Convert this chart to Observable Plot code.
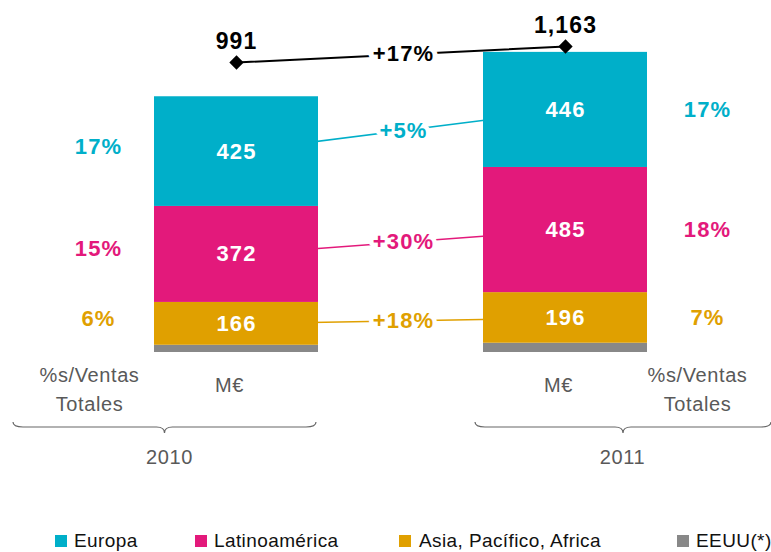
<!DOCTYPE html>
<html>
<head>
<meta charset="utf-8">
<script src="https://cdn.jsdelivr.net/npm/d3@7"></script>
<script src="https://cdn.jsdelivr.net/npm/@observablehq/plot@0.6"></script>
<style>
  html, body { margin: 0; padding: 0; background: #fff; }
  #wrap { position: relative; width: 771px; height: 552px; font-family: "Liberation Sans", Arial, sans-serif; }
  #main, #over { position: absolute; left: 0; top: 0; }
  #over { pointer-events: none; }
  #wrap svg g[font-weight="bold"] text { letter-spacing: 1.1px; }
  #wrap svg g[font-weight="normal"] text { letter-spacing: 0.6px; }
  #legend { position: absolute; left: 0; top: 530px; width: 771px; height: 22px; font-size: 19px; color: #111; letter-spacing: 0.4px; }
  #legend .item { position: absolute; top: 0; display: flex; align-items: center; height: 22px; white-space: nowrap; }
  #legend .sw { width: 12px; height: 12px; margin-right: 6px; }
</style>
</head>
<body>
<div id="wrap">
  <div id="main"></div>
  <div id="over"></div>
  <div id="legend"></div>
</div>
<script>
// ---- data ----
const years = ["2010", "2011"];
const regionNames = ["Europa", "Latinoamérica", "Asia, Pacífico, Africa", "EEUU(*)"];
const regionColors = ["#00AFC9", "#E3197B", "#E0A000", "#888888"];
const europa = [425, 446];
const latam = [372, 485];
const asia = [166, 196];
const eeuu = [28, 36];
const totals = [991, 1163];
const shareEuropa = ["17%", "17%"];
const shareLatam = ["15%", "18%"];
const shareAsia = ["6%", "7%"];
const growthLabels = ["+5%", "+30%", "+18%"]; // Europa, Latinoamérica, Asia
const totalGrowth = "+17%";
const unitLabel = "M€";
const shareLabel = "%s/Ventas\nTotales";

// ---- derived tables ----
const valuesBy = {"Europa": europa, "Latinoamérica": latam, "Asia, Pacífico, Africa": asia, "EEUU(*)": eeuu};
const sharesBy = {"Europa": shareEuropa, "Latinoamérica": shareLatam, "Asia, Pacífico, Africa": shareAsia};
const stackOrder = ["EEUU(*)", "Asia, Pacífico, Africa", "Latinoamérica", "Europa"];
const rows = [];
years.forEach((yr, i) => {
  let c = 0;
  for (const r of stackOrder) {
    const v = valuesBy[r][i];
    rows.push({year: yr, region: r, value: v, y1: c, y2: c + v, mid: c + v / 2, share: sharesBy[r] ? sharesBy[r][i] : null});
    c += v;
  }
});
const labelRows = rows.filter(d => d.region !== "EEUU(*)");
const growthRows = ["Europa", "Latinoamérica", "Asia, Pacífico, Africa"].map((r, k) => {
  const a = rows.find(d => d.year === "2010" && d.region === r);
  const b = rows.find(d => d.year === "2011" && d.region === r);
  return {region: r, y1: a.mid, y2: b.mid, label: growthLabels[k]};
});
const totalRows = years.map((yr, i) => ({year: yr, total: totals[i]}));

const xOpts = {type: "band", domain: years, paddingInner: 0.503, paddingOuter: 0.376, align: 0.5, axis: null};
const colorOpts = {domain: regionNames, range: regionColors};
const FONT = "'Liberation Sans', Arial, sans-serif";
const grey = "#595959";

function brace(x0, x1, y) {
  const t = (x0 + x1) / 2;
  return `M${x0},${y - 5} Q${x0},${y} ${x0 + 10},${y} L${t - 8},${y} Q${t},${y} ${t},${y + 6} Q${t},${y} ${t + 8},${y} L${x1 - 10},${y} Q${x1},${y} ${x1},${y - 5}`;
}

const main = Plot.plot({
  width: 771,
  height: 520,
  marginLeft: 29, marginRight: 0, marginTop: 0, marginBottom: 168,
  style: {fontFamily: FONT, background: "transparent", overflow: "visible"},
  x: xOpts,
  y: {domain: [0, 1364], axis: null},
  color: colorOpts,
  marks: [
    Plot.link(growthRows, {x1: () => "2010", x2: () => "2011", y1: "y1", y2: "y2", stroke: "region", strokeWidth: 1.5}),
    Plot.barY(rows, {x: "year", y1: "y1", y2: "y2", fill: "region"}),
    Plot.text(labelRows, {x: "year", y: "mid", text: d => String(d.value), fill: "white", fontSize: 22, fontWeight: "bold"}),
    Plot.text(labelRows.filter(d => d.year === "2010"), {x: "year", y: "mid", text: "share", fill: "region", fontSize: 22, fontWeight: "bold", dx: -138, dy: -5}),
    Plot.text(labelRows.filter(d => d.year === "2011"), {x: "year", y: "mid", text: "share", fill: "region", fontSize: 22, fontWeight: "bold", dx: 142}),
    Plot.text(growthRows, {x: () => "2010", y: d => (d.y1 + d.y2) / 2, text: "label", fill: "region", stroke: "white", strokeWidth: 9, paintOrder: "stroke", fontSize: 22, fontWeight: "bold", dx: 167}),
    Plot.text(years, {x: d => d, y: () => 0, text: () => unitLabel, fill: grey, fontSize: 20, fontWeight: "normal", dy: 33, dx: -7}),
    Plot.text(["2010"], {x: d => d, y: () => 0, text: () => shareLabel, fill: grey, fontSize: 20, fontWeight: "normal", lineHeight: 1.45, dy: 35, dx: -147}),
    Plot.text(["2011"], {x: d => d, y: () => 0, text: () => shareLabel, fill: grey, fontSize: 20, fontWeight: "normal", lineHeight: 1.45, dy: 35, dx: 132}),
    Plot.text(["2010"], {x: d => d, y: () => 0, text: d => d, fill: grey, fontSize: 20, fontWeight: "normal", dy: 105, dx: -67}),
    Plot.text(["2011"], {x: d => d, y: () => 0, text: d => d, fill: grey, fontSize: 20, fontWeight: "normal", dy: 105, dx: 57}),
    (index, scales) => {
      const x = scales.x, y = scales.y;
      const bw = x.bandwidth ? x.bandwidth() : 0;
      const y0 = y(0) + 75;
      const g = d3.create("svg:g").attr("fill", "none").attr("stroke", "#666").attr("stroke-width", 1.2);
      const a0 = x("2010"), b0 = x("2011");
      g.append("path").attr("d", brace(a0 - 141, a0 + bw - 2, y0));
      g.append("path").attr("d", brace(b0 - 8, b0 + bw + 124, y0));
      return g.node();
    }
  ]
});
document.getElementById("main").append(main);

const over = Plot.plot({
  width: 771,
  height: 100,
  marginLeft: 29, marginRight: 0, marginTop: 0, marginBottom: 0,
  style: {fontFamily: FONT, background: "transparent", overflow: "visible"},
  x: xOpts,
  y: {domain: d3.extent(totals), range: [62, 46], axis: null},
  marks: [
    Plot.line(totalRows, {x: "year", y: "total", stroke: "black", strokeWidth: 2}),
    Plot.dot(totalRows, {x: "year", y: "total", symbol: "diamond2", fill: "black", stroke: "black", r: 5.5}),
    Plot.text(totalRows, {x: "year", y: "total", text: d => d3.format(",")(d.total), fill: "black", fontSize: 23, fontWeight: "bold", dy: -21}),
    Plot.text([totalGrowth], {x: () => "2010", y: () => d3.mean(totals), text: d => d, fill: "black", stroke: "white", strokeWidth: 10, paintOrder: "stroke", fontSize: 22, fontWeight: "bold", dx: 167, dy: -1})
  ]
});
document.getElementById("over").append(over);

// legend
const legendX = [[55, 74], [195, 214], [399, 419], [677, 696]];
const legend = document.getElementById("legend");
regionNames.forEach((r, i) => {
  const item = document.createElement("div");
  item.className = "item";
  item.style.left = legendX[i][0] + "px";
  const sw = document.createElement("span");
  sw.className = "sw";
  sw.style.background = regionColors[i];
  sw.style.marginRight = (legendX[i][1] - legendX[i][0] - 12) + "px";
  const tx = document.createElement("span");
  tx.textContent = r;
  item.append(sw, tx);
  legend.append(item);
});
</script>
</body>
</html>
